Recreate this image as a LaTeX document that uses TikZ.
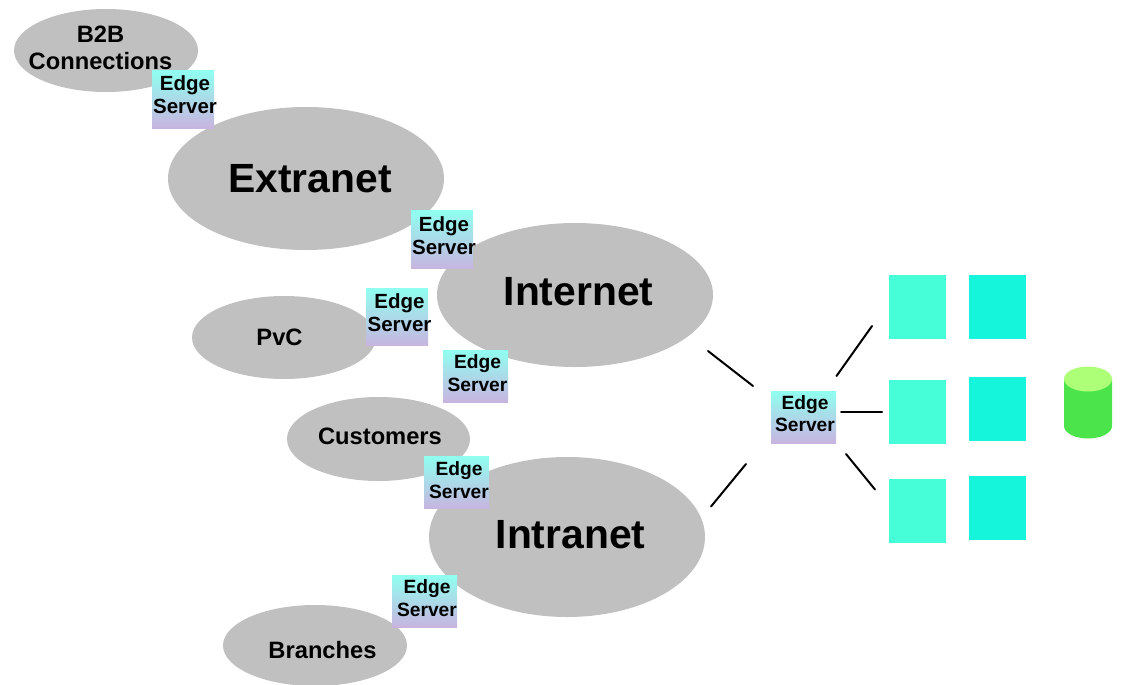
\documentclass[tikz,border=0pt]{standalone}
\usepackage{fontspec}
\setmainfont{Liberation Sans}
\usetikzlibrary{shapes.geometric}
\definecolor{cloudgray}{HTML}{C0C0C0}
\definecolor{gradtop}{HTML}{8FFFF0}
\definecolor{gradbot}{HTML}{C8B4E0}
\definecolor{tealA}{HTML}{46FFD8}
\definecolor{tealB}{HTML}{14F5DC}
\definecolor{cylbody}{HTML}{4BE54B}
\definecolor{cyltop}{HTML}{AEFF78}
\tikzset{
  netblob/.style={ellipse,fill=cloudgray,inner sep=0pt},
  esbox/.style={rectangle,inner sep=0pt,top color=gradtop,bottom color=gradbot,draw=none},
  estext/.style={inner sep=0pt,align=center,font=\bfseries\fontsize{#1}{22.5}\selectfont},
  biglabel/.style={inner sep=0pt,anchor=base,font=\bfseries\fontsize{40.8}{44}\selectfont},
  midlabel/.style={inner sep=0pt,anchor=base,align=center,font=\bfseries\fontsize{23.7}{27.5}\selectfont},
  srv/.style={rectangle,inner sep=0pt,draw=none},
  link/.style={line width=2pt,line cap=round,black},
}
\newcommand{\blobat}[5]{\node[netblob,minimum width=#4pt,minimum height=#5pt] (#1) at (#2,#3) {};}
\newcommand{\edgeat}[8]{%
  \node[esbox,minimum width=#4pt,minimum height=#5pt] (#1) at (#2,#3) {};
  \node[estext=#8] (#1t) at (#6,#7) {Edge\\Server};}
\newcommand{\srvat}[4]{\node[srv,fill=#4,minimum width=57pt,minimum height=64pt] (#1) at (#2,#3) {};}
\begin{document}
\begin{tikzpicture}[x=1pt,y=-1pt]
\useasboundingbox (0,0) rectangle (1124,685);
% clouds
\blobat{b2b}{106}{50.5}{184}{83}
\blobat{extranet}{306}{178.5}{276}{143}
\blobat{internet}{575}{295}{276}{144}
\blobat{pvc}{284}{337.5}{184}{83}
\blobat{customers}{378.5}{439}{183}{84}
\blobat{intranet}{567}{537}{276}{160}
\blobat{branches}{315}{645.5}{184}{81}
% labels
\node[midlabel] (b2bt) at (100.5,70) {B2B\\Connections};
\node[biglabel] (extranett) at (310,192) {Extranet};
\node[biglabel] (internett) at (578.5,305) {Internet};
\node[biglabel] (intranett) at (570.5,548) {Intranet};
\node[midlabel] (pvct) at (279.5,345) {PvC};
\node[midlabel] (customerst) at (380,444) {Customers};
\node[midlabel] (branchest) at (322.5,658) {Branches};
% edge servers
\edgeat{es1}{183}{99.5}{62}{57}{185}{94.5}{20.5}
\edgeat{es2}{442}{239.5}{62}{58.5}{444}{235.5}{20.5}
\edgeat{es3}{397}{317}{62}{57.5}{399.5}{312.5}{20.5}
\edgeat{es4}{475.5}{376}{65}{52}{477.5}{373}{19.2}
\edgeat{es5}{456.5}{482.5}{65}{52.5}{459}{480}{19.2}
\edgeat{es6}{424.5}{601}{65}{52}{427}{598}{19.2}
\edgeat{es7}{803.5}{417}{65}{52}{805}{413.5}{19.2}
% servers
\srvat{a1}{917.5}{307}{tealA}
\srvat{a2}{917.5}{412}{tealA}
\srvat{a3}{917.5}{511}{tealA}
\srvat{b1}{997.5}{307}{tealB}
\srvat{b2}{997.5}{409}{tealB}
\srvat{b3}{997.5}{508}{tealB}
% database
\fill[cylbody] (1064,379) -- (1064,426) arc[start angle=180,end angle=360,x radius=24,y radius=-12.5] -- (1112,379) -- cycle;
\fill[cyltop] (1088,379) ellipse[x radius=24,y radius=12.5];
% connectors
\coordinate (l1a) at (708,351); \coordinate (l1b) at (753,386);
\coordinate (l2a) at (711,506.5); \coordinate (l2b) at (746,464);
\coordinate (r1a) at (836.5,376); \coordinate (r1b) at (872,326);
\coordinate (r2a) at (841,412); \coordinate (r2b) at (882,412);
\coordinate (r3a) at (846,454); \coordinate (r3b) at (875,489.5);
\draw[link] (l1a) -- (l1b);
\draw[link] (l2a) -- (l2b);
\draw[link] (r1a) -- (r1b);
\draw[link] (r2a) -- (r2b);
\draw[link] (r3a) -- (r3b);
\end{tikzpicture}
\end{document}
